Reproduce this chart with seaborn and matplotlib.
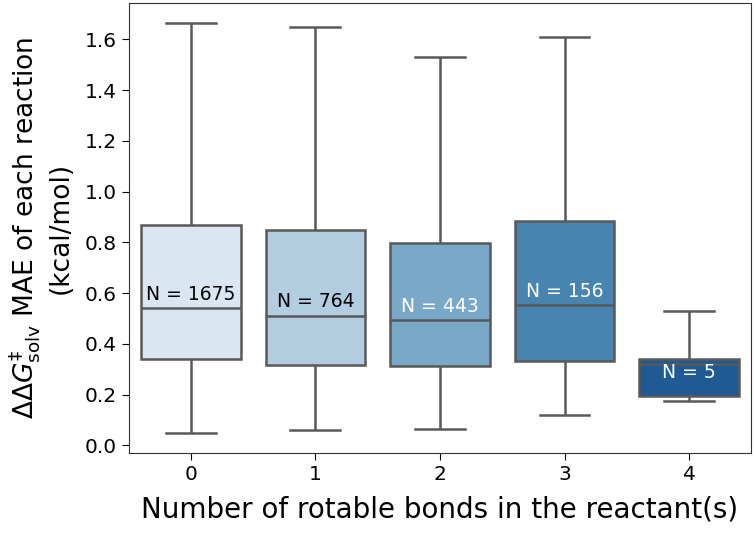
import numpy as np
import pandas as pd
import seaborn as sns
import matplotlib.pyplot as plt

# five-number summaries (min, q1, median, q3, max)
rot_bonds = [0, 1, 2, 3, 4]
n_counts = [1675, 764, 443, 156, 5]
mae_0 = [0.050, 0.342, 0.541, 0.870, 1.663]
mae_1 = [0.059, 0.318, 0.510, 0.849, 1.650]
mae_2 = [0.064, 0.313, 0.493, 0.799, 1.529]
mae_3 = [0.118, 0.331, 0.553, 0.882, 1.608]
mae_4 = [0.175, 0.193, 0.321, 0.340, 0.530]
box_colors = ["#dae6f1", "#b2cde0", "#79a8c8", "#4884b0", "#1f5a95"]
text_colors = ["black", "black", "white", "white", "white"]

groups = [mae_0, mae_1, mae_2, mae_3, mae_4]
df = pd.DataFrame({
    "rot": np.repeat(rot_bonds, [len(g) for g in groups]),
    "mae": np.concatenate(groups),
})

plt.rcParams["font.family"] = ["DejaVu Sans"]
fig, ax = plt.subplots(figsize=(7.56, 5.54), dpi=100)
sns.boxplot(data=df, x="rot", y="mae", hue="rot", palette=box_colors,
            saturation=1, whis=(0, 100), showfliers=False, legend=False,
            linewidth=1.8, linecolor="#595959", width=0.8, ax=ax)

for i, g in enumerate(groups):
    q1, med, q3 = g[1], g[2], g[3]
    if q3 - med > 0.1:
        y = med + 0.055
    else:
        y = (q1 + q3) / 2 + 0.02
    ax.text(i, y, f"N = {n_counts[i]}", ha="center", va="center",
            fontsize=13.5, color=text_colors[i])

ax.set_xlabel("Number of rotable bonds in the reactant(s)", fontsize=20, labelpad=8)
ax.set_ylabel(r"$\Delta\Delta G^{\ddagger}_{\mathrm{solv}}$ MAE of each reaction" + "\n(kcal/mol)",
              fontsize=19, labelpad=8)
ax.tick_params(labelsize=14.5, length=5)
for s in ax.spines.values():
    s.set_color("#333333")

fig.subplots_adjust(left=0.170, right=0.994, top=0.995, bottom=0.182)
fig.savefig("out.png", dpi=100)
